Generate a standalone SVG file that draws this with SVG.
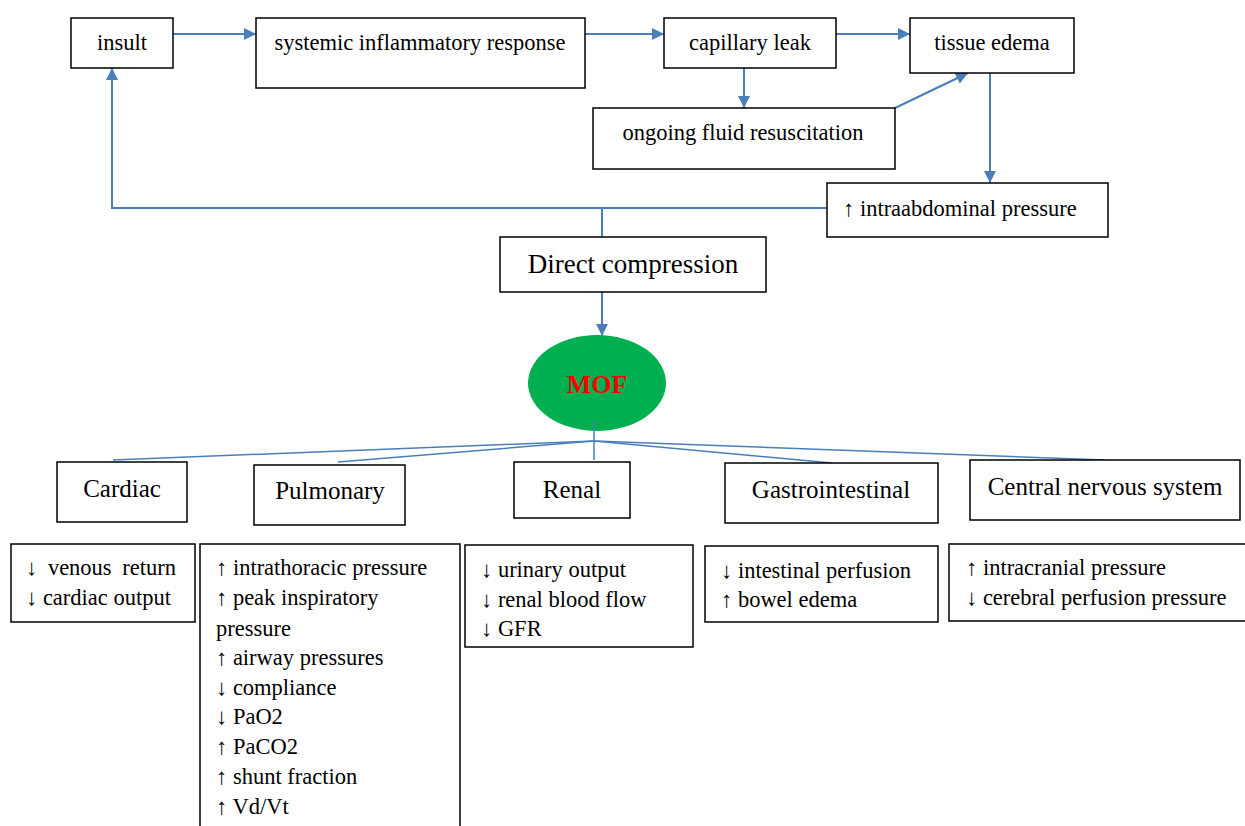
<svg xmlns="http://www.w3.org/2000/svg" width="1245" height="826" viewBox="0 0 1245 826">
<style>
.box{fill:#fff;stroke:#000;stroke-width:1.5}
.t{font-family:"Liberation Serif","Times New Roman",serif;font-size:22.5px;fill:#000}
.h{font-size:25px}
.c{text-anchor:middle}
.con{fill:none;stroke:#4a7ebb;stroke-width:2}
.thin{fill:none;stroke:#4a7ebb;stroke-width:1.5}
</style>
<defs>
<marker id="a" viewBox="0 0 10 10" refX="10" refY="5" markerWidth="12" markerHeight="12" markerUnits="userSpaceOnUse" orient="auto">
<path d="M0,0 L10,5 L0,10 z" fill="#4a7ebb"/>
</marker>
</defs>
<rect width="1245" height="826" fill="#fff"/>
<g id="connectors">
<line class="con" x1="173" y1="34" x2="256" y2="34" marker-end="url(#a)"/>
<line class="con" x1="585" y1="34" x2="664" y2="34" marker-end="url(#a)"/>
<line class="con" x1="836" y1="34" x2="910" y2="34" marker-end="url(#a)"/>
<line class="con" x1="744" y1="68" x2="744" y2="108" marker-end="url(#a)"/>
<line class="con" x1="895" y1="108" x2="968" y2="73" marker-end="url(#a)"/>
<line class="con" x1="990" y1="73" x2="990" y2="183" marker-end="url(#a)"/>
<polyline class="con" points="827,208 112,208 112,68" marker-end="url(#a)"/>
<line class="con" x1="602" y1="208" x2="602" y2="237"/>
<line class="con" x1="602" y1="292" x2="602" y2="336" marker-end="url(#a)"/>
</g>
<g id="insult"><rect class="box" x="71" y="18" width="102" height="50"/><text class="t c" x="122" y="50">insult</text></g>
<g id="sir"><rect class="box" x="256" y="18" width="329" height="70"/><text class="t c" x="420" y="50">systemic inflammatory response</text></g>
<g id="capillary"><rect class="box" x="664" y="18" width="172" height="50"/><text class="t c" x="750" y="50">capillary leak</text></g>
<g id="edema"><rect class="box" x="910" y="18" width="164" height="55"/><text class="t c" x="992" y="50">tissue edema</text></g>
<g id="fluid"><rect class="box" x="593" y="108" width="302" height="61"/><text class="t c" x="743" y="140">ongoing fluid resuscitation</text></g>
<g id="iap"><rect class="box" x="827" y="183" width="281" height="54"/><text class="t" x="843" y="216">↑ intraabdominal pressure</text></g>
<g id="direct"><rect class="box" x="500" y="237" width="266" height="55"/><text class="t c" x="633" y="273" style="font-size:27px">Direct compression</text></g>
<g id="mof-lines">
<line class="thin" x1="594" y1="441" x2="113" y2="460"/>
<line class="thin" x1="594" y1="441" x2="338" y2="462"/>
<line class="thin" x1="594" y1="441" x2="832" y2="463"/>
<line class="thin" x1="594" y1="441" x2="1105" y2="460"/>
</g>
<g id="mof"><ellipse cx="597" cy="383" rx="69" ry="48" fill="#00b050"/><text class="t c" x="597" y="384" dominant-baseline="central" style="font-weight:bold;fill:#ff0000;font-size:26px">MOF</text>
<line class="thin" x1="594" y1="420" x2="594" y2="460"/></g>
<g id="cardiac"><rect class="box" x="57" y="462" width="130" height="60"/><text class="t h c" x="122" y="497">Cardiac</text></g>
<g id="pulmonary"><rect class="box" x="254" y="465" width="151" height="60"/><text class="t h c" x="330" y="499">Pulmonary</text></g>
<g id="renal"><rect class="box" x="514" y="462" width="116" height="56"/><text class="t h c" x="572" y="498">Renal</text></g>
<g id="gi"><rect class="box" x="725" y="463" width="213" height="60"/><text class="t h c" x="831" y="498">Gastrointestinal</text></g>
<g id="cns"><rect class="box" x="970" y="460" width="270" height="60"/><text class="t h c" x="1105" y="495">Central nervous system</text></g>
<g id="cardiac-detail"><rect class="box" x="11" y="544" width="184" height="78"/>
<text class="t" x="26" y="575" word-spacing="5">↓ venous return</text>
<text class="t" x="26" y="605">↓ cardiac output</text></g>
<g id="pulmonary-detail"><rect class="box" x="200" y="544" width="260" height="290"/>
<text class="t" x="216" y="575">↑ intrathoracic pressure</text>
<text class="t" x="216" y="605">↑ peak inspiratory</text>
<text class="t" x="216" y="636">pressure</text>
<text class="t" x="216" y="665">↑ airway pressures</text>
<text class="t" x="216" y="695">↓ compliance</text>
<text class="t" x="216" y="724">↓ PaO2</text>
<text class="t" x="216" y="754">↑ PaCO2</text>
<text class="t" x="216" y="784">↑ shunt fraction</text>
<text class="t" x="216" y="814">↑ Vd/Vt</text></g>
<g id="renal-detail"><rect class="box" x="465" y="545" width="228" height="102"/>
<text class="t" x="481" y="577">↓ urinary output</text>
<text class="t" x="481" y="607">↓ renal blood flow</text>
<text class="t" x="481" y="636">↓ GFR</text></g>
<g id="gi-detail"><rect class="box" x="705" y="546" width="233" height="76"/>
<text class="t" x="721" y="578">↓ intestinal perfusion</text>
<text class="t" x="721" y="607">↑ bowel edema</text></g>
<g id="cns-detail"><rect class="box" x="949" y="544" width="300" height="77"/>
<text class="t" x="966" y="575">↑ intracranial pressure</text>
<text class="t" x="966" y="605">↓ cerebral perfusion pressure</text></g>
</svg>
